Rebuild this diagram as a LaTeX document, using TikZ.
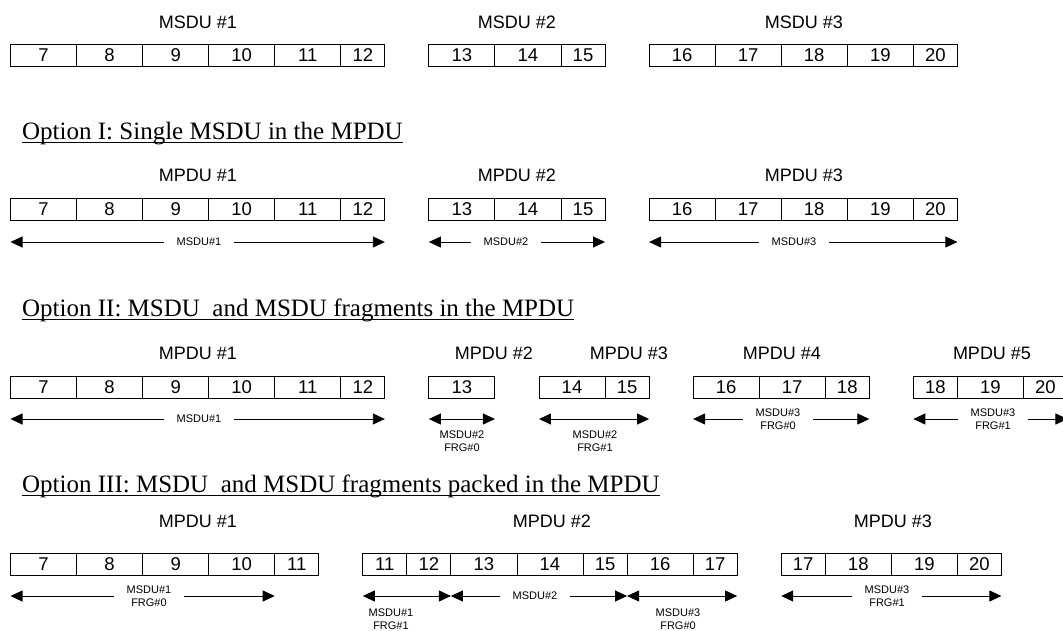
\documentclass[tikz,border=0pt]{standalone}
\usepackage{fontspec}
\setmainfont{Liberation Sans}
\newfontfamily\ttlfont{Liberation Serif}
\usetikzlibrary{arrows.meta}
\def\uu{22.02}
\def\ox{10.5}
\newcommand\cellrow[3]{%
  \foreach \cn/\cw/\ct [count=\ci] in {#3} {%
    \node[cell, minimum width={\cw*\uu*1pt}] (#1\ci) at ({\ox+\cn*\uu},#2) {\ct};}}
\tikzset{
  cell/.style={draw, line width=0.9pt, fill=white, minimum height=22pt, inner sep=0pt,
    outer sep=0pt, anchor=north west, font=\fontsize{18.5}{20}\selectfont},
  hdr/.style={font=\fontsize{18}{20}\selectfont, inner sep=0pt},
  ttl/.style={font=\ttlfont\fontsize{25}{28}\selectfont, inner sep=0pt, anchor=base west},
  dim/.style={line width=0.9pt, {Triangle[length=12pt,width=11pt]}-{Triangle[length=12pt,width=11pt]}},
  lab/.style={font=\fontsize{11}{12.5}\selectfont, align=center, inner sep=0pt},
  labw/.style={lab, fill=white, inner xsep=13pt, inner ysep=2pt},
}
\begin{document}
\begin{tikzpicture}[x=1pt, y=-1pt]
\useasboundingbox (0,0) rectangle (1063,630);
\clip (0,0) rectangle (1063,630);
\fill[white] (0,0) rectangle (1063,630);

% ---------- MSDU row ----------
\node[hdr] (h1) at (198,22) {MSDU \#1};
\node[hdr] (h2) at (517,22) {MSDU \#2};
\node[hdr] (h3) at (804,22) {MSDU \#3};
\cellrow{a}{44}{0/3/7,3/3/8,6/3/9,9/3/10,12/3/11,15/2/12,19/3/13,22/3/14,25/2/15,29/3/16,32/3/17,35/3/18,38/3/19,41/2/20}

% ---------- Option I ----------
\node[ttl] (t1) at (22,139) {Option I: Single MSDU in the MPDU};
\draw[line width=1pt] ([yshift=-3pt]t1.base west) -- ([yshift=-3pt]t1.base east);
\node[hdr] (p11) at (198,175) {MPDU \#1};
\node[hdr] (p12) at (517,175) {MPDU \#2};
\node[hdr] (p13) at (804,175) {MPDU \#3};
\cellrow{b}{198}{0/3/7,3/3/8,6/3/9,9/3/10,12/3/11,15/2/12,19/3/13,22/3/14,25/2/15,29/3/16,32/3/17,35/3/18,38/3/19,41/2/20}
\coordinate (b1l) at ({\ox},242);            \coordinate (b1r) at ({\ox+17*\uu},242);
\coordinate (b2l) at ({\ox+19*\uu},242);     \coordinate (b2r) at ({\ox+27*\uu},242);
\coordinate (b3l) at ({\ox+29*\uu},242);     \coordinate (b3r) at ({\ox+43*\uu},242);
\draw[dim] (b1l) -- (b1r);
\draw[dim] (b2l) -- (b2r);
\draw[dim] (b3l) -- (b3r);
\node[labw] (bm1) at (199,242) {MSDU\#1};
\node[labw] (bm2) at (506,242) {MSDU\#2};
\node[labw] (bm3) at (794,242) {MSDU\#3};

% ---------- Option II ----------
\node[ttl] (t2) at (22,316) {Option II: MSDU\ \ and MSDU fragments in the MPDU};
\draw[line width=1pt] ([yshift=-3pt]t2.base west) -- ([yshift=-3pt]t2.base east);
\node[hdr] (p21) at (198,353) {MPDU \#1};
\node[hdr] (p22) at (494,353) {MPDU \#2};
\node[hdr] (p23) at (629,353) {MPDU \#3};
\node[hdr] (p24) at (782,353) {MPDU \#4};
\node[hdr] (p25) at (992,353) {MPDU \#5};
\cellrow{c}{376}{0/3/7,3/3/8,6/3/9,9/3/10,12/3/11,15/2/12,19/3/13,24/3/14,27/2/15,31/3/16,34/3/17,37/2/18,41/2/18,43/3/19,46/2/20}
\coordinate (c1l) at ({\ox},419);            \coordinate (c1r) at ({\ox+17*\uu},419);
\coordinate (c2l) at ({\ox+19*\uu},419);     \coordinate (c2r) at ({\ox+22*\uu},419);
\coordinate (c3l) at ({\ox+24*\uu},419);     \coordinate (c3r) at ({\ox+29*\uu},419);
\coordinate (c4l) at ({\ox+31*\uu},419);     \coordinate (c4r) at ({\ox+39*\uu},419);
\coordinate (c5l) at ({\ox+41*\uu},419);     \coordinate (c5r) at ({\ox+48*\uu},419);
\draw[dim] (c1l) -- (c1r);
\draw[dim] (c2l) -- (c2r);
\draw[dim] (c3l) -- (c3r);
\draw[dim] (c4l) -- (c4r);
\draw[dim] (c5l) -- (c5r);
\node[labw] (cm1) at (199,419) {MSDU\#1};
\node[lab]  (cm2) at (462,441) {MSDU\#2\\FRG\#0};
\node[lab]  (cm3) at (595,441) {MSDU\#2\\FRG\#1};
\node[labw] (cm4) at (778,419) {MSDU\#3\\FRG\#0};
\node[labw] (cm5) at (993,419) {MSDU\#3\\FRG\#1};

% ---------- Option III ----------
\node[ttl] (t3) at (22,492) {Option III: MSDU\ \ and MSDU fragments packed in the MPDU};
\draw[line width=1pt] ([yshift=-3pt]t3.base west) -- ([yshift=-3pt]t3.base east);
\node[hdr] (p31) at (198,521) {MPDU \#1};
\node[hdr] (p32) at (552,521) {MPDU \#2};
\node[hdr] (p33) at (893,521) {MPDU \#3};
\cellrow{d}{553}{0/3/7,3/3/8,6/3/9,9/3/10,12/2/11,16/2/11,18/2/12,20/3/13,23/3/14,26/2/15,28/3/16,31/2/17,35/2/17,37/3/18,40/3/19,43/2/20}
\coordinate (d1l) at ({\ox},596);            \coordinate (d1r) at ({\ox+12*\uu},596);
\coordinate (d2l) at ({\ox+16*\uu},596);     \coordinate (d2r) at ({\ox+20*\uu},596);
\coordinate (d3l) at ({\ox+20*\uu},596);     \coordinate (d3r) at ({\ox+28*\uu},596);
\coordinate (d4l) at ({\ox+28*\uu},596);     \coordinate (d4r) at ({\ox+33*\uu},596);
\coordinate (d5l) at ({\ox+35*\uu},596);     \coordinate (d5r) at ({\ox+45*\uu},596);
\draw[dim] (d1l) -- (d1r);
\draw[dim] (d2l) -- (d2r);
\draw[dim] (d3l) -- (d3r);
\draw[dim] (d4l) -- (d4r);
\draw[dim] (d5l) -- (d5r);
\node[labw] (dm1) at (149,596) {MSDU\#1\\FRG\#0};
\node[lab]  (dm2) at (391,619) {MSDU\#1\\FRG\#1};
\node[labw] (dm3) at (535,596) {MSDU\#2};
\node[lab]  (dm4) at (678,619) {MSDU\#3\\FRG\#0};
\node[labw] (dm5) at (887,596) {MSDU\#3\\FRG\#1};
\end{tikzpicture}
\end{document}
